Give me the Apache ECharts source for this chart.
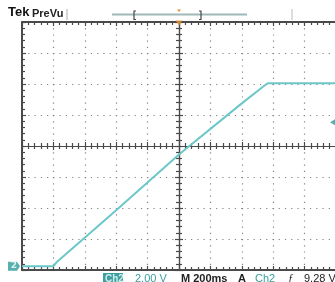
<!DOCTYPE html>
<html>
<head>
<meta charset="utf-8">
<script src="https://cdn.jsdelivr.net/npm/echarts@6/dist/echarts.min.js"></script>
<style>
html,body{margin:0;padding:0;background:#fff;}
#scope{width:335px;height:282px;}
</style>
</head>
<body>
<div id="scope"></div>
<script>
// 波形采样点：时间(ms) / 电压(V)
const timeMs = [-1000, -800, -780, -400, 0, 400, 545, 565, 1000]
const volts  = [0, 0, 0.25, 3.6, 7.2, 10.5, 11.65, 11.8, 11.8]
// 刻度
const msPerDiv = 200
const voltsPerDiv = 2
const groundDiv = -3.875 // 通道2零点所在格
const trigLevel = 9.28 // 触发电平 V
const trigTime = 0

const domId = 'scope'
const gridW = 314
const gridH = 248
const teal = '#6cc7c9'
const axisColor = '#4a4a4a'

function toDiv(v){
  return v / voltsPerDiv + groundDiv
}

function tickCfg(inside){
  return {
    axisTick:{show:true, inside:inside, length:4, lineStyle:{color:axisColor, width:1.2}},
    minorTick:{show:true, splitNumber:5, length:3, lineStyle:{color:axisColor, width:1.2}}
  }
}

function xAxisCfg(extra, inside, lineW){
  return Object.assign({
    type:'value', min:-5 * msPerDiv, max:5 * msPerDiv, interval:msPerDiv,
    axisLabel:{show:false},
    splitLine:{show:false},
    axisLine:{show:true, onZero:false, lineStyle:{color:axisColor, width:lineW}}
  }, tickCfg(inside), extra)
}

function yAxisCfg(extra, inside, lineW){
  return Object.assign({
    type:'value', min:-4, max:4, interval:1,
    axisLabel:{show:false},
    splitLine:{show:false},
    axisLine:{show:true, onZero:false, lineStyle:{color:axisColor, width:lineW}}
  }, tickCfg(inside), extra)
}

const dottedX = {show:true, lineStyle:{color:'#858585', width:1.2, type:[1.2, 5]}}
const dottedY = {show:true, lineStyle:{color:'#858585', width:1.2, type:[1.2, 5.06]}}

let option = {
  backgroundColor:'#fff',
  animation:false,
  grid:{left:22, top:22, width:gridW, height:gridH, outerBoundsMode:'none'},
  xAxis:[
    xAxisCfg({position:'bottom', splitLine:dottedX}, true, 2),
    xAxisCfg({position:'top'}, true, 2),
    xAxisCfg({position:'bottom', offset:-gridH / 2}, true, 1.2),
    xAxisCfg({position:'bottom', offset:-gridH / 2}, false, 1.2)
  ],
  yAxis:[
    yAxisCfg({position:'left', splitLine:dottedY}, true, 2),
    yAxisCfg({position:'left', offset:-gridW / 2}, true, 1.2),
    yAxisCfg({position:'left', offset:-gridW / 2}, false, 1.2)
  ],
  series:[
    {
      type:'line',
      data:timeMs.map((t, i) => [t, toDiv(volts[i])]),
      showSymbol:false,
      lineStyle:{color:teal, width:2},
      z:5
    },
    {
      // 通道零点标记
      type:'scatter', clip:false, z:6,
      data:[[-5 * msPerDiv, toDiv(0)]],
      symbol:'path://M0,0 L9,0 L12,4 L9,8 L0,8 Z',
      symbolSize:[12, 9],
      symbolOffset:[-8, 0],
      itemStyle:{color:'#2e9c9a'},
      label:{show:true, formatter:'2', color:'#fff', fontSize:9, fontWeight:'bold', position:'inside', fontFamily:'DejaVu Sans'}
    },
    {
      // 触发电平
      type:'scatter', clip:false, z:6,
      data:[[5 * msPerDiv, toDiv(trigLevel)]],
      symbol:'triangle', symbolRotate:90, symbolSize:[7, 6], symbolOffset:[-3, 0],
      itemStyle:{color:'#2e9c9a'}
    },
    {
      // 触发位置
      type:'scatter', clip:false, z:6,
      data:[[trigTime, 4]],
      symbol:'triangle', symbolRotate:180, symbolSize:[7, 5], symbolOffset:[0, 1],
      itemStyle:{color:'#e8902a'}
    }
  ],
  graphic:[
    {type:'text', left:8, top:6, style:{text:'Tek', font:'bold 13px "Liberation Sans"', fill:'#111'}},
    {type:'text', left:32, top:8, style:{text:'PreVu', font:'bold 11px "Liberation Sans"', fill:'#222'}},
    {type:'line', shape:{x1:67, y1:9, x2:67, y2:20}, style:{stroke:'#aaa', lineWidth:1}},
    {type:'line', shape:{x1:112, y1:14.5, x2:247, y2:14.5}, style:{stroke:'#9fb8b8', lineWidth:2}},
    {type:'polyline', shape:{points:[[136, 11], [134, 11], [134, 19.5], [136, 19.5]]}, style:{stroke:'#444', lineWidth:1.2, fill:null}},
    {type:'polyline', shape:{points:[[199, 11], [201, 11], [201, 19.5], [199, 19.5]]}, style:{stroke:'#444', lineWidth:1.2, fill:null}},
    {type:'polygon', shape:{points:[[177, 9.5], [181, 9.5], [179, 12]]}, style:{fill:'#e8902a'}},
    {type:'line', shape:{x1:292, y1:9, x2:292, y2:20}, style:{stroke:'#bbb', lineWidth:1}},
    {type:'rect', shape:{x:103, y:273, width:20, height:11}, style:{fill:'#3f9f9f'}},
    {type:'text', left:105, top:274, style:{text:'Ch2', font:'bold 10px "Liberation Sans"', fill:'#cfeeee'}},
    {type:'text', left:135, top:273, style:{text:'2.00 V', font:'11px "Liberation Sans"', fill:'#3a9e9e'}},
    {type:'text', left:181, top:273, style:{text:'M 200ms', font:'bold 11px "Liberation Sans"', fill:'#222'}},
    {type:'text', left:238, top:273, style:{text:'A', font:'bold 11px "Liberation Sans"', fill:'#222'}},
    {type:'text', left:255, top:273, style:{text:'Ch2', font:'11px "Liberation Sans"', fill:'#3a9e9e'}},
    {type:'text', left:288, top:273, style:{text:'ƒ', font:'italic 11px "Liberation Serif"', fill:'#222'}},
    {type:'text', left:304, top:273, style:{text:'9.28 V', font:'11px "Liberation Sans"', fill:'#222'}}
  ]
}

let chart = echarts.init(document.getElementById(domId), null, {renderer:'canvas'})
chart.setOption(option)
</script>
</body>
</html>
